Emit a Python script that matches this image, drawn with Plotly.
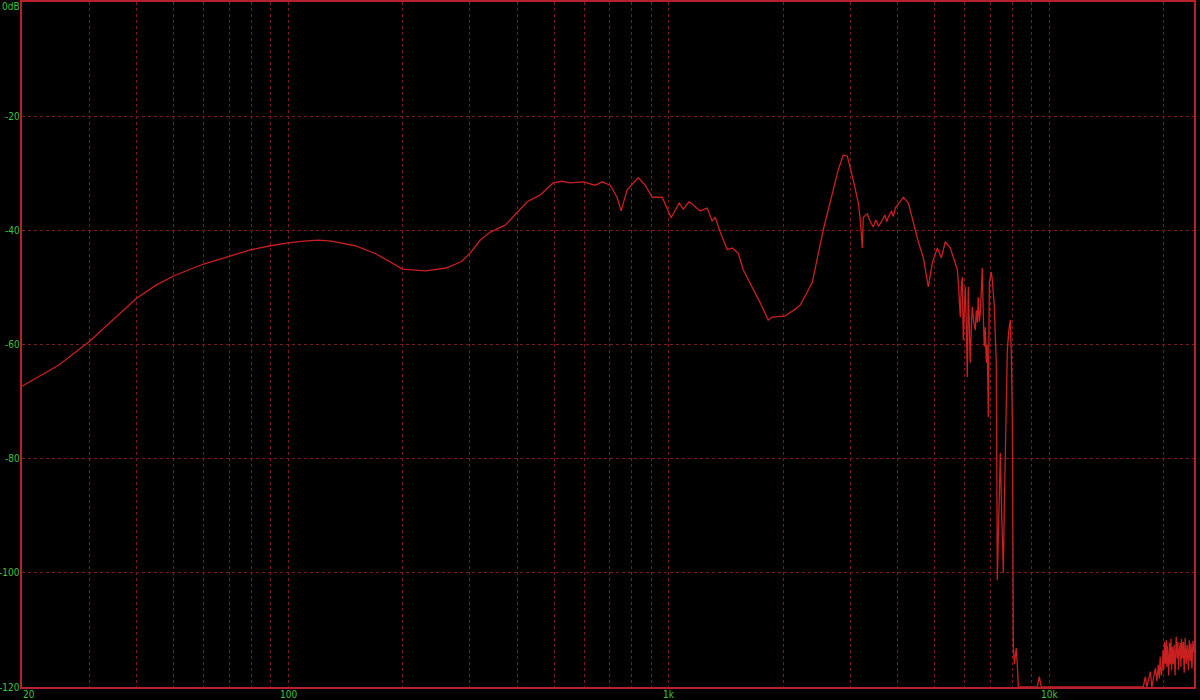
import math
import plotly.graph_objects as go

# ---- Data (frequency in Hz, level in dB) ----
# Smooth low/mid section
low_hz = [20, 22, 25, 30, 35, 40, 45, 50, 60, 70,
          80, 90, 100, 110, 120, 130, 150, 170, 185, 200,
          230, 260, 285, 300, 320, 340, 372, 400, 425, 460,
          497, 525, 551, 596, 641, 669, 702, 732, 750, 778,
          832, 868, 905, 962, 1015, 1066, 1092, 1132, 1210, 1263,
          1301, 1325, 1366, 1425, 1469, 1523, 1570]
low_db = [-67.3, -65.7, -63.6, -59.5, -55.4, -51.9, -49.6, -48.0, -45.9, -44.5,
          -43.4, -42.7, -42.2, -41.9, -41.7, -41.9, -42.7, -44.1, -45.5, -46.8,
          -47.1, -46.6, -45.5, -44.1, -41.7, -40.3, -39.1, -36.8, -35.0, -33.8,
          -31.7, -31.4, -31.7, -31.5, -32.1, -31.5, -32.1, -34.2, -36.6, -32.9,
          -30.8, -32.1, -34.2, -34.2, -37.8, -35.2, -36.3, -35.0, -36.6, -36.1,
          -38.4, -37.7, -40.3, -43.4, -43.1, -44.0, -46.9]

# Dip, 3 kHz peak and upper-mid section
mid_hz = [1740, 1826, 1872, 2024, 2150, 2216, 2313, 2384, 2548, 2690,
          2790, 2876, 2946, 3055, 3149, 3188, 3227, 3246, 3326, 3386,
          3448, 3500, 3560, 3642, 3700, 3740, 3776, 3850, 3890, 3940,
          4136, 4262, 4394, 4528, 4668, 4810, 4928, 5080, 5204, 5332,
          5496, 5596, 5734]
mid_db = [-52.7, -55.7, -55.2, -55.0, -53.8, -53.1, -50.8, -49.1, -39.9, -33.5,
          -29.4, -26.8, -27.0, -31.2, -35.2, -38.2, -43.1, -37.7, -37.1, -38.5,
          -39.4, -38.2, -39.3, -38.2, -37.3, -38.5, -37.7, -36.6, -37.6, -36.1,
          -34.2, -35.2, -38.7, -42.0, -44.8, -49.9, -45.7, -43.1, -44.8, -42.0,
          -43.1, -44.8, -46.9]

# Noisy treble section and roll-off
hf_hz = [5768, 5800, 5838, 5870, 5908, 5944, 5980, 6016, 6050, 6090,
         6126, 6160, 6200, 6240, 6276, 6330, 6390, 6430, 6470, 6508,
         6550, 6588, 6630, 6668, 6710, 6750, 6790, 6832, 6870, 6916,
         6958, 7000, 7042, 7084, 7130, 7172, 7210, 7258, 7302, 7370,
         7436, 7500, 7572, 7620, 7664, 7710, 7758, 7830, 7900, 7950,
         7998, 8046, 8100, 8144, 8190, 8242, 8292]
hf_db = [-49.2, -53.0, -55.2, -50.0, -48.2, -59.2, -52.0, -49.9, -56.0, -65.7,
         -49.9, -55.0, -63.2, -57.0, -53.4, -56.0, -57.5, -54.0, -56.2, -51.7,
         -56.0, -54.5, -49.0, -46.6, -55.0, -60.4, -57.0, -63.2, -60.0, -72.7,
         -49.2, -48.0, -47.3, -48.7, -51.0, -53.4, -58.0, -63.2, -101.3, -88.0,
         -79.0, -90.0, -100.0, -88.0, -79.0, -68.0, -61.0, -57.5, -55.7, -62.0,
         -73.2, -113.0, -116.0, -114.4, -113.2, -116.1, -120.0]

# Floor with a single small blip
floor_hz = [9300, 9414, 9530, 17660]
floor_db = [-120.0, -118.2, -120.0, -120.0]

# Noise near the top of the band
tail_hz = [17884, 18050, 18430, 18600, 19000, 19170, 19340, 19450, 19560, 19690,
           19820, 19900, 19990, 20090, 20190, 20250, 20300, 20370, 20430, 20520,
           20600, 20700, 20800, 20880, 20950, 21050, 21170, 21280, 21400, 21550,
           21690, 21770, 21850, 21970, 22090, 22170, 22250, 22380, 22500, 22620,
           22750, 22900, 23050, 23120, 23200, 23330, 23470, 23580, 23700, 23850,
           24000]
tail_db = [-118.2, -120.0, -117.3, -120.0, -116.7, -119.0, -116.1, -118.5, -114.7, -118.0,
           -116.5, -113.5, -117.0, -112.1, -116.0, -114.0, -111.8, -116.5, -112.8, -115.0,
           -118.0, -112.3, -116.0, -111.5, -117.0, -113.0, -116.0, -112.6, -118.0, -111.2,
           -115.0, -112.1, -117.0, -113.5, -112.3, -116.5, -111.6, -115.0, -112.1, -117.5,
           -111.4, -116.0, -112.6, -114.5, -117.0, -111.8, -115.5, -112.4, -116.8, -111.9,
           -114.0]

grid_freqs = [30, 40, 50, 60, 70, 80, 90, 100, 200, 300, 400, 500, 600, 700, 800, 900,
              1000, 2000, 3000, 4000, 5000, 6000, 7000, 8000, 9000, 10000, 20000]
x_label_vals = [20, 100, 1000, 10000]
x_label_text = ["20", "100", "1k", "10k"]
y_ticks = [0, -20, -40, -60, -80, -100, -120]
y_labels = ["0dB", "-20", "-40", "-60", "-80", "-100", "-120"]

freq_hz = low_hz + mid_hz + hf_hz + floor_hz + tail_hz
level_db = low_db + mid_db + hf_db + floor_db + tail_db
assert len(freq_hz) == len(level_db)

GRID = "#7a1c1f"
BORDER = "#b8202c"
LABEL = "#3cc43c"
FONT = "Liberation Sans Narrow, Arial Narrow, DejaVu Sans Condensed, sans-serif"
FSIZE = 10

fig = go.Figure()
fig.add_trace(go.Scatter(
    x=freq_hz, y=level_db, mode="lines",
    line=dict(color="#c82020", width=1.3),
    hoverinfo="skip", showlegend=False,
))

fig.update_layout(
    width=1200, height=700,
    paper_bgcolor="black", plot_bgcolor="black",
    margin=dict(l=22, r=6, t=2, b=13),
    font=dict(family=FONT, size=FSIZE, color=LABEL),
    showlegend=False,
)
fig.update_xaxes(
    type="log", range=[1.30103, 4.38021],
    tickmode="array", tickvals=grid_freqs, showticklabels=False,
    showgrid=True, gridcolor=GRID, gridwidth=1, griddash="dot",
    showline=True, linecolor=BORDER, linewidth=1.5, mirror=True,
    ticks="", zeroline=False, automargin=False,
)
fig.update_yaxes(
    range=[-120, 0],
    tickmode="array", tickvals=y_ticks, showticklabels=False,
    showgrid=True, gridcolor=GRID, gridwidth=1, griddash="dot",
    showline=True, linecolor=BORDER, linewidth=1.5, mirror=True,
    ticks="", zeroline=False, automargin=False,
)

# Axis labels placed as annotations so the tight margins do not clip them
for v, t in zip(y_ticks, y_labels):
    top = (v == 0)
    fig.add_annotation(
        x=0, xref="paper", xanchor="right", xshift=-1,
        y=v, yref="y", yanchor="top" if top else "middle", yshift=2 if top else 0,
        text=t, showarrow=False, borderpad=0,
        font=dict(family=FONT, size=FSIZE, color=LABEL),
    )
for v, t in zip(x_label_vals, x_label_text):
    first = (v == x_label_vals[0])
    fig.add_annotation(
        x=0 if first else math.log10(v), xref="paper" if first else "x",
        xanchor="left" if first else "center",
        y=0, yref="paper", yanchor="top", yshift=-1,
        text=t, showarrow=False, borderpad=0,
        font=dict(family=FONT, size=FSIZE, color=LABEL),
    )

fig.write_html(
    "out.html",
    config={"displayModeBar": False},
    post_script="document.body.style.margin='0';document.body.style.background='black';",
)
